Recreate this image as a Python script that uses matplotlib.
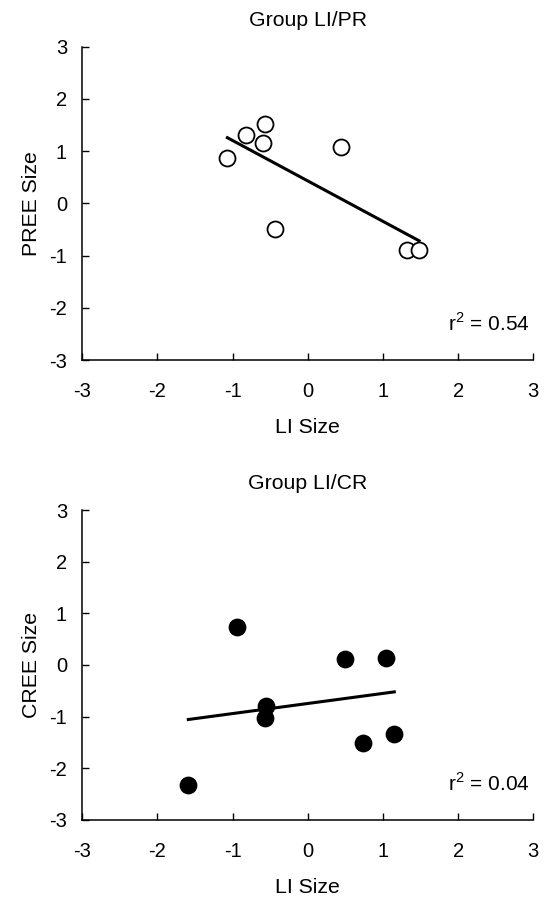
import matplotlib
matplotlib.use('Agg')
import matplotlib.pyplot as plt
import numpy as np

# Group LI/PR (open circles)
li_pr = [-1.07, -0.82, -0.57, -0.60, 0.44, -0.44, 1.32, 1.48]
pree = [0.87, 1.31, 1.52, 1.15, 1.08, -0.49, -0.90, -0.90]

# Group LI/CR (filled circles)
li_cr = [-0.94, 0.50, 1.04, -0.55, -0.57, 0.74, 1.15, -1.59]
cree = [0.74, 0.11, 0.14, -0.79, -1.03, -1.52, -1.33, -2.33]

panels = [
    ('Group LI/PR', li_pr, pree, 'PREE Size', 'white', 'r$^2$ = 0.54'),
    ('Group LI/CR', li_cr, cree, 'CREE Size', 'black', 'r$^2$ = 0.04'),
]
ticks = [-3, -2, -1, 0, 1, 2, 3]

plt.rcParams.update({'font.size': 14.5, 'font.family': 'Liberation Sans',
                     'axes.unicode_minus': False,
                     'mathtext.fontset': 'custom', 'mathtext.rm': 'Liberation Sans'})
fig = plt.figure(figsize=(5.47, 8.98), dpi=100)
boxes = [[0.1505, 0.599, 0.8245, 0.349], [0.1505, 0.087, 0.8245, 0.345]]

for box, (title, x, y, ylab, face, rtxt) in zip(boxes, panels):
    ax = fig.add_axes(box)
    x = np.array(x)
    y = np.array(y)
    k, b = np.polyfit(x, y, 1)
    xs = np.array([x.min(), x.max()])
    ax.plot(xs, k * xs + b, color='black', lw=2.2, zorder=2)
    ax.plot(x, y, 'o', ms=11.5, mfc=face, mec='black', mew=1.3, zorder=3)
    ax.set_xlim(-3, 3)
    ax.set_ylim(-3, 3)
    ax.set_xticks(ticks)
    ax.set_yticks(ticks)
    ax.tick_params(direction='in', length=5, width=1)
    ax.tick_params(axis='x', pad=16)
    ax.tick_params(axis='y', pad=11)
    ax.spines['top'].set_visible(False)
    ax.spines['right'].set_visible(False)
    ax.spines['left'].set_linewidth(1.1)
    ax.spines['bottom'].set_linewidth(1.1)
    ax.set_title(title, fontsize=15.3, pad=15)
    ax.set_xlabel('LI Size', fontsize=15.3, labelpad=12)
    ax.set_ylabel(ylab, fontsize=15.3, labelpad=6)
    ax.text(2.95, -2.3, rtxt, ha='right', va='center', fontsize=15)

plt.savefig('out.png', dpi=100)
